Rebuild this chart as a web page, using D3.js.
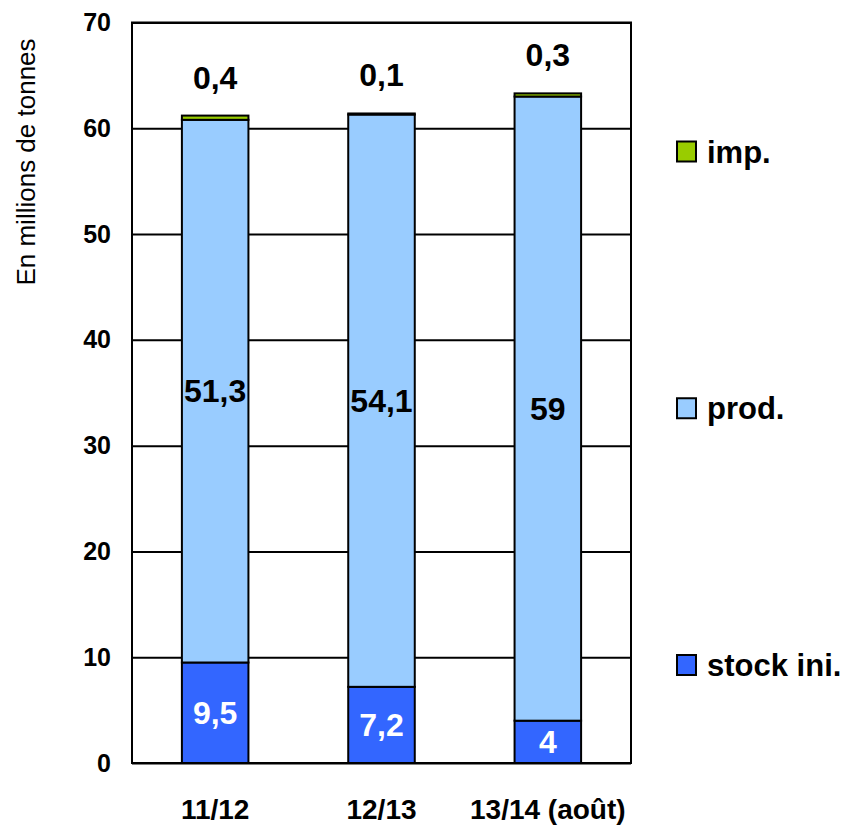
<!DOCTYPE html>
<html>
<head>
<meta charset="utf-8">
<script src="https://cdn.jsdelivr.net/npm/d3@7"></script>
<style>
  body { margin: 0; background: #fff; }
  text { font-family: 'Liberation Sans', Arial, sans-serif; }
</style>
</head>
<body>
<div class="chart"></div>
<script>
const width = 848;
const height = 826;
const plotLeft = 132;
const plotRight = 631;
const plotTop = 22.5;
const plotBottom = 763;

// data (millions de tonnes)
const categories = ['11/12', '12/13', '13/14 (août)'];
const stockIni = [9.5, 7.2, 4];
const prod = [51.3, 54.1, 59];
const imp = [0.4, 0.1, 0.3];
const yTicks = [0, 10, 20, 30, 40, 50, 60, 70];

const keys = ['stock', 'prod', 'imp'];
const legendLabels = { stock: 'stock ini.', prod: 'prod.', imp: 'imp.' };
const colors = { stock: '#3366FF', prod: '#99CCFF', imp: '#99CC00' };
const labelColors = { stock: '#fff', prod: '#000', imp: '#000' };

const rows = categories.map((c, i) => ({
  cat: c,
  stock: stockIni[i],
  prod: prod[i],
  imp: imp[i],
}));

const fmt = (v) => String(v).replace('.', ',');

const svg = d3
  .select('.chart')
  .append('svg')
  .attr('width', width)
  .attr('height', height);

const x = d3
  .scaleBand()
  .domain(categories)
  .range([plotLeft, plotRight])
  .paddingInner(0.6)
  .paddingOuter(0.3);

const y = d3.scaleLinear().domain([0, 70]).range([plotBottom, plotTop]);

// Gridlines
svg
  .append('g')
  .attr('transform', `translate(${plotLeft}, 0)`)
  .call(
    d3
      .axisLeft(y)
      .tickValues(yTicks)
      .tickSize(-(plotRight - plotLeft))
      .tickFormat('')
  )
  .call((g) => g.select('.domain').remove())
  .call((g) => g.selectAll('line').attr('stroke', '#000').attr('stroke-width', 2));

// Y axis labels
svg
  .append('g')
  .attr('transform', `translate(${plotLeft}, 0)`)
  .call(d3.axisLeft(y).tickValues(yTicks).tickSize(0).tickPadding(21))
  .call((g) => g.select('.domain').remove())
  .call((g) =>
    g
      .selectAll('text')
      .attr('font-family', "'Liberation Sans', Arial, sans-serif")
      .attr('font-size', 25)
      .attr('font-weight', 'bold')
      .attr('fill', '#000')
  );

// Y axis title
svg
  .append('text')
  .attr('transform', 'rotate(-90)')
  .attr('x', -162)
  .attr('y', 35)
  .attr('text-anchor', 'middle')
  .attr('font-size', 26)
  .text('En millions de tonnes');

// Stacked bars
const series = d3.stack().keys(keys)(rows);

const layers = svg
  .append('g')
  .selectAll('g')
  .data(series)
  .enter()
  .append('g')
  .attr('fill', (d) => colors[d.key]);

layers
  .selectAll('rect')
  .data((d) => d)
  .enter()
  .append('rect')
  .attr('x', (d) => x(d.data.cat))
  .attr('y', (d) => y(d[1]))
  .attr('width', x.bandwidth())
  .attr('height', (d) => y(d[0]) - y(d[1]))
  .attr('stroke', '#000')
  .attr('stroke-width', 2);

// Plot frame
svg
  .append('rect')
  .attr('x', plotLeft)
  .attr('y', plotTop)
  .attr('width', plotRight - plotLeft)
  .attr('height', plotBottom - plotTop)
  .attr('fill', 'none')
  .attr('stroke', '#000')
  .attr('stroke-width', 2);

// Value labels
series.forEach((s) => {
  svg
    .append('g')
    .selectAll('text')
    .data(s)
    .enter()
    .append('text')
    .attr('x', (d) => x(d.data.cat) + x.bandwidth() / 2)
    .attr('y', (d) =>
      s.key === 'imp' ? y(d[1]) - 27 : y((d[0] + d[1]) / 2) + 11
    )
    .attr('text-anchor', 'middle')
    .attr('font-size', 32)
    .attr('font-weight', 'bold')
    .attr('fill', labelColors[s.key])
    .text((d) => fmt(d.data[s.key]));
});

// Category labels
svg
  .append('g')
  .selectAll('text')
  .data(categories)
  .enter()
  .append('text')
  .attr('x', (d) => x(d) + x.bandwidth() / 2)
  .attr('y', 819)
  .attr('text-anchor', 'middle')
  .attr('font-size', 28)
  .attr('font-weight', 'bold')
  .text((d) => d);

// Legend
const legendY = d3
  .scalePoint()
  .domain(['imp', 'prod', 'stock'])
  .range([151.5, 665]);

const legend = svg.append('g').attr('id', 'legend');
const items = legend
  .selectAll('g')
  .data(legendY.domain())
  .enter()
  .append('g')
  .attr('transform', (d) => `translate(677, ${legendY(d)})`);

items
  .append('rect')
  .attr('x', 0)
  .attr('y', -10)
  .attr('width', 19)
  .attr('height', 20)
  .attr('fill', (d) => colors[d])
  .attr('stroke', '#000')
  .attr('stroke-width', 2);

items
  .append('text')
  .attr('x', 30)
  .attr('y', 11)
  .attr('font-size', 31)
  .attr('font-weight', 'bold')
  .text((d) => legendLabels[d]);
</script>
</body>
</html>
